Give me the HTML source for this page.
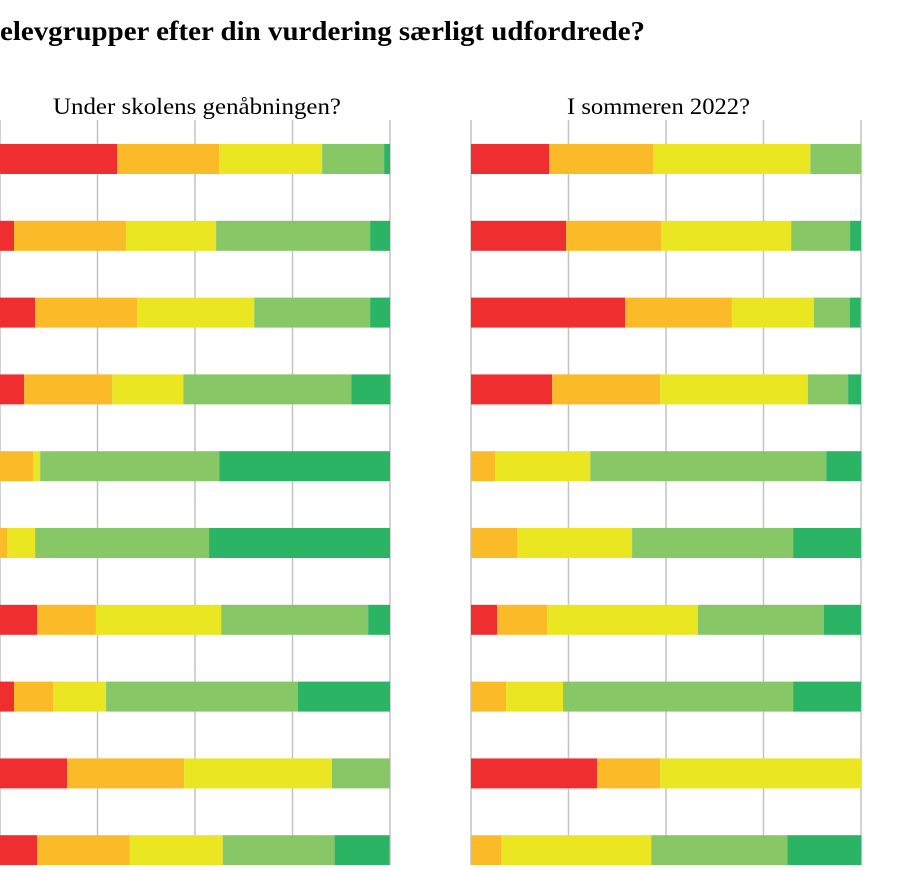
<!DOCTYPE html>
<html><head><meta charset="utf-8">
<style>
html,body{margin:0;padding:0;background:#fff;}
body{width:916px;height:865px;overflow:hidden;position:relative;font-family:"Liberation Serif",serif;}
</style></head>
<body>
<svg id="chart" width="916" height="865" xmlns="http://www.w3.org/2000/svg">
<text x="0" y="40" textLength="645" lengthAdjust="spacingAndGlyphs" font-family="Liberation Serif, serif" font-weight="bold" font-size="27" fill="#000">elevgrupper efter din vurdering særligt udfordrede?</text>
<text x="53" y="114" textLength="288" lengthAdjust="spacingAndGlyphs" font-family="Liberation Serif, serif" font-size="23" fill="#000">Under skolens genåbningen?</text>
<text x="567" y="114" textLength="183" lengthAdjust="spacingAndGlyphs" font-family="Liberation Serif, serif" font-size="23" fill="#000">I sommeren 2022?</text>
<g id="grid"></g>
<g id="bars"></g>
</svg>
<script>
const colors=["#EE2E2F","#FBBA27","#EAE621","#88C766","#2BB464"];
const ticks=[0,25,50,75,100];
const leftValues=[
[30,26.2,26.4,15.9,1.5],
[3.6,28.7,23.1,39.5,5.1],
[9,26.2,30,29.7,5.1],
[6.2,22.6,18.2,43.1,10],
[0,8.5,1.8,45.9,43.8],
[0,1.8,7.2,44.6,46.4],
[9.5,15.1,32.1,37.7,5.6],
[3.6,10,13.6,49.2,23.6],
[17.2,30,37.9,14.9,0],
[9.5,23.8,23.8,28.7,14.1]];
const rightValues=[
[20,26.7,40.3,13.1,0],
[24.4,24.4,33.3,15.1,2.8],
[39.5,27.4,21,9.2,2.8],
[20.8,27.7,37.9,10.3,3.3],
[0,6.2,24.4,60.5,9],
[0,11.8,29.5,41.3,17.4],
[6.7,12.8,38.7,32.3,9.5],
[0,9,14.6,59,17.4],
[32.3,16.2,51.5,0,0],
[0,7.7,38.5,34.9,19]];
const NS="http://www.w3.org/2000/svg";
const grid=document.getElementById('grid'),bars=document.getElementById('bars');
const panels=[{x0:0,w:390,vals:leftValues,name:'left'},{x0:471,w:390,vals:rightValues,name:'right'}];
function yPos(i){return 159+i*76.8;}
panels.forEach(p=>{
  const xs=v=>p.x0+v/100*p.w;
  ticks.forEach(t=>{
    const l=document.createElementNS(NS,'line');
    
    
    l.setAttribute('x1',xs(t));l.setAttribute('x2',xs(t));
    l.setAttribute('y1',120);l.setAttribute('y2',865);
    l.setAttribute('stroke','#c4c4c4');l.setAttribute('stroke-width','1.5');
    grid.appendChild(l);
  });
  p.vals.forEach((row,i)=>{
    let acc=0;
    row.forEach((v,k)=>{
      if(v<=0){return;}
      const r=document.createElementNS(NS,'rect');
      
      
      r.setAttribute('x',xs(acc));r.setAttribute('width',xs(acc+v)-xs(acc));
      r.setAttribute('y',yPos(i)-15);r.setAttribute('height',30);
      r.setAttribute('fill',colors[k]);
      bars.appendChild(r);
      acc+=v;
    });
  });
});
</script>
</body></html>
